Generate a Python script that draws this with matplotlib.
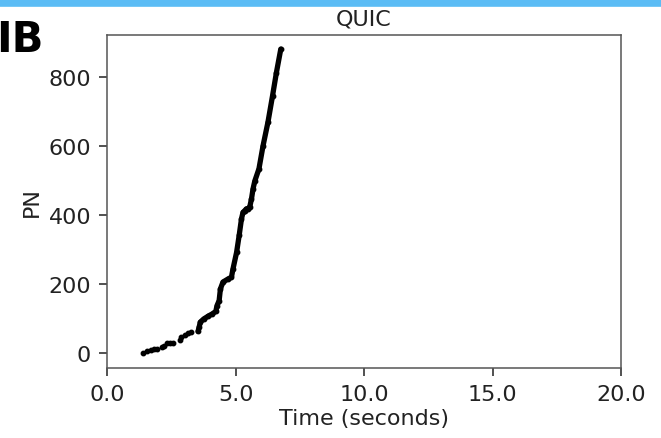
import matplotlib.pyplot as plt

# packet number vs time
# sparse start: separate dots
t_sparse = [1.38, 1.56, 1.69, 1.82, 1.95, 2.14, 2.22, 2.33, 2.44, 2.57,
            2.83, 2.89, 3.02, 3.15, 3.26]
pn_sparse = [2, 7, 9, 12, 14, 20, 23, 30, 30, 29,
             38, 47, 54, 59, 62]

# dense part: packets so close they merge into a thick line
t_dense = [3.54, 3.58, 3.63, 3.76, 3.93, 4.10, 4.23, 4.28, 4.36, 4.41,
           4.51, 4.71, 4.84, 4.90, 5.04, 5.14, 5.23, 5.29, 5.36, 5.42,
           5.49, 5.55, 5.62, 5.68, 5.75, 5.91, 6.07, 6.26, 6.44, 6.59, 6.76]
pn_dense = [64, 76, 91, 100, 108, 115, 122, 139, 153, 187,
            207, 216, 221, 245, 293, 342, 390, 409, 414, 419,
            420, 424, 448, 477, 500, 535, 602, 670, 747, 814, 882]

x_ticks = [0.0, 5.0, 10.0, 15.0, 20.0]
y_ticks = [0, 200, 400, 600, 800]

plt.rcParams['font.size'] = 16
fig = plt.figure(figsize=(6.61, 4.39), dpi=100)
ax = fig.add_axes([0.162, 0.1595, 0.7775, 0.7595])

ax.plot(t_sparse, pn_sparse, 'o', color='black', markersize=3.2)
ax.plot(t_dense, pn_dense, '-', color='black', linewidth=3.8,
        solid_capstyle='round', marker='o', markersize=3.2)

ax.set_xlim(0, 20)
ax.set_xticks(x_ticks)
ax.set_xticklabels([f'{v:.1f}' for v in x_ticks])
ax.set_yticks(y_ticks)
ax.set_ylim(-42, 924)
ax.tick_params(length=6, width=1.1, pad=5.5, labelsize=16, colors='#222222')
ax.set_xlabel('Time (seconds)', fontsize=16, labelpad=3, color='#222222')
ax.set_ylabel('PN', fontsize=16, labelpad=5, color='#222222')
ax.set_title('QUIC', fontsize=16, pad=7, color='#222222')
for s in ax.spines.values():
    s.set_color('#555555')
    s.set_linewidth(1.1)

# panel letter and the blue brush stroke along the top edge
fig.text(-0.006, 0.908, 'IB', fontsize=30, fontweight='bold', ha='left', va='center')
fig.add_artist(plt.Line2D([0, 1], [0.992, 0.992], color='#5bbcf5', linewidth=5.5,
                          transform=fig.transFigure))

fig.savefig('out.png', dpi=100)
